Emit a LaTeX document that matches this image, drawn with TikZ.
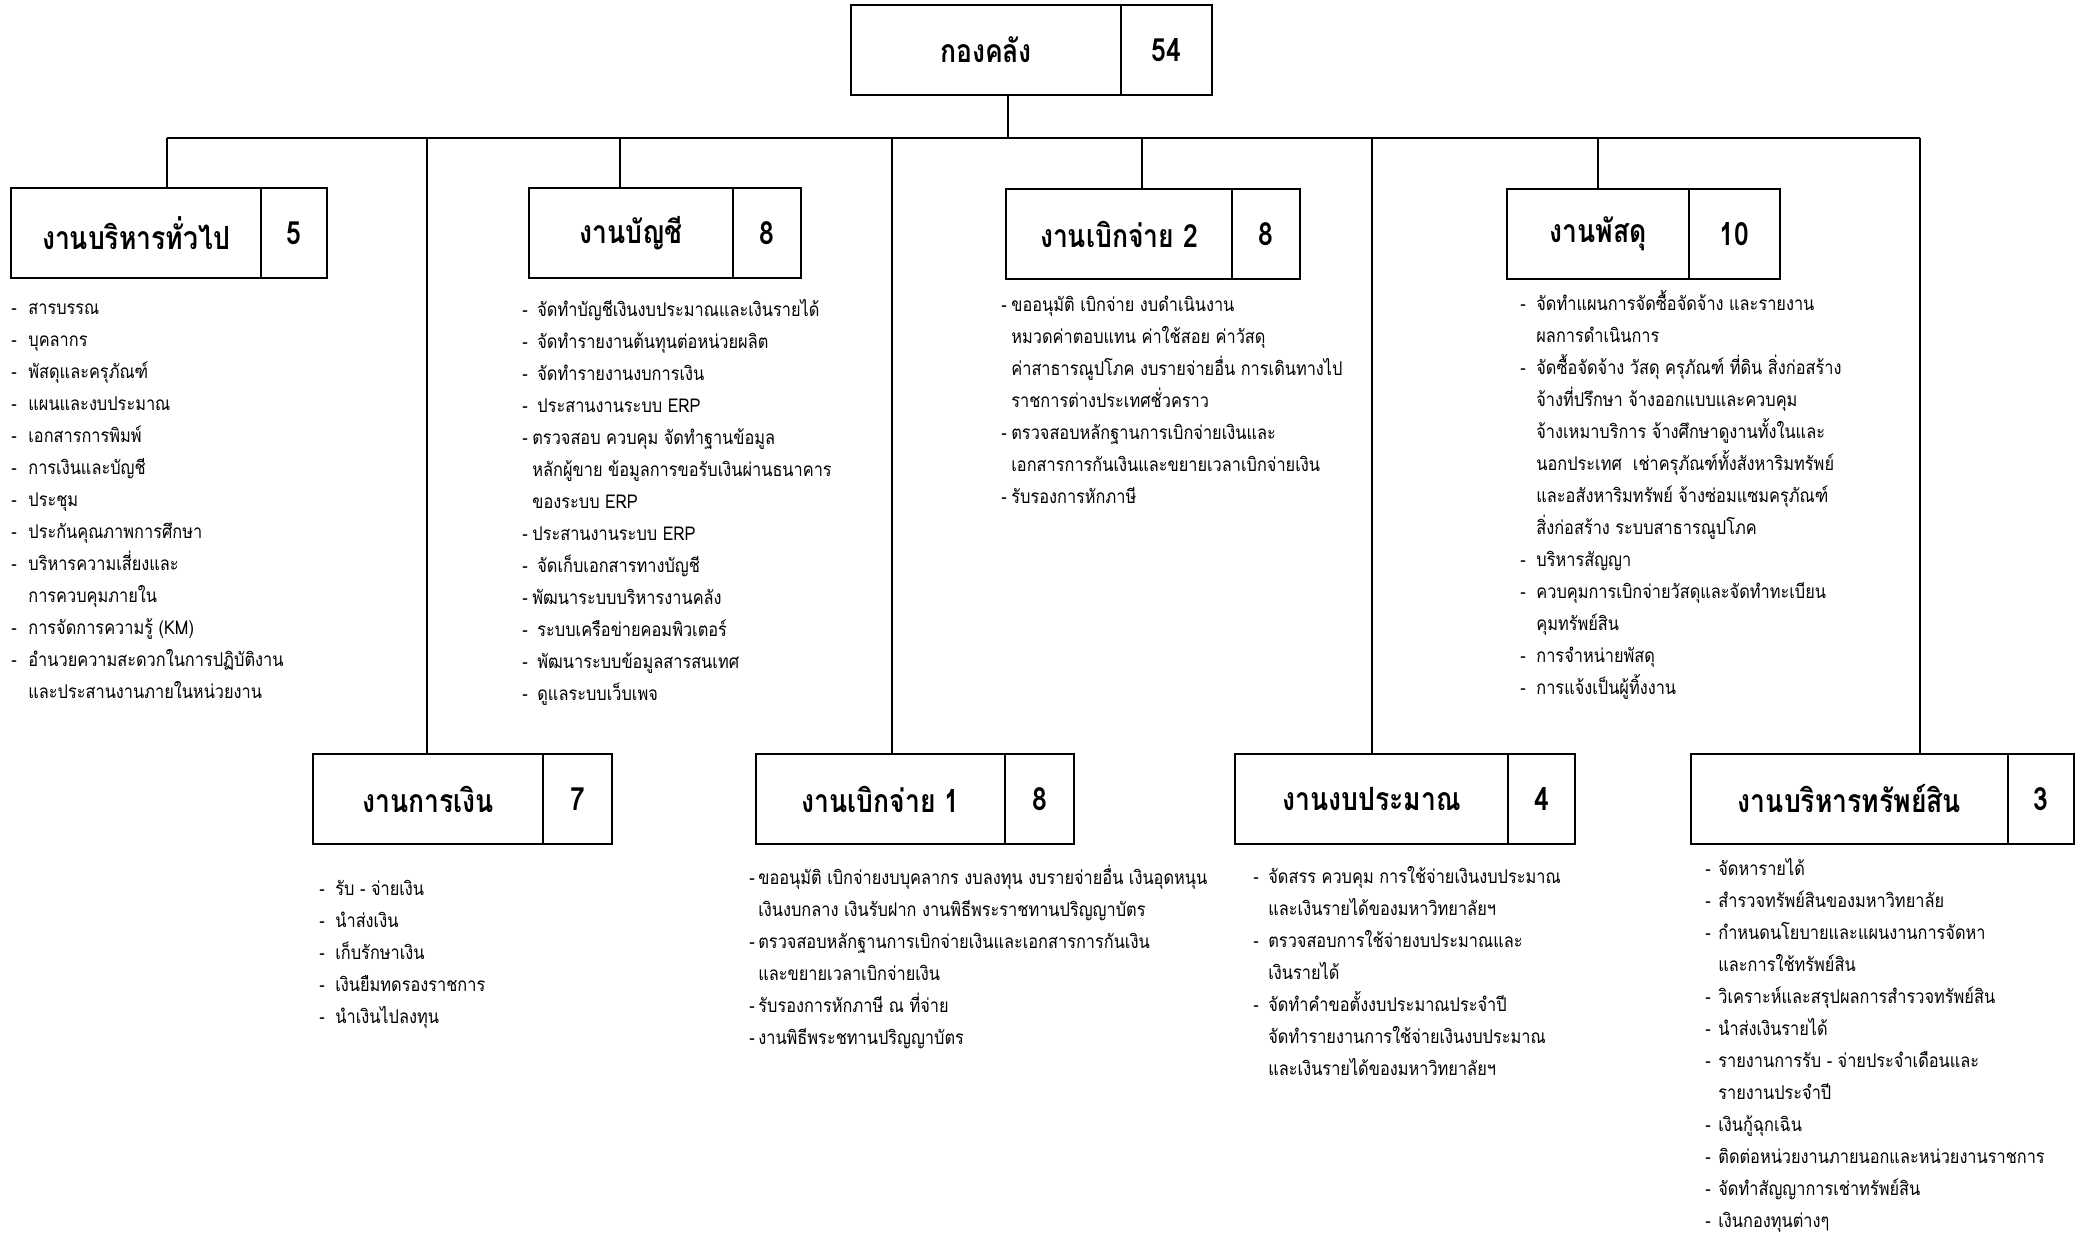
\documentclass[tikz,border=0pt]{standalone}
\usepackage{fontspec}
\newfontfamily\thaifont[Script=Thai, FakeStretch=0.83]{Loma}
\newfontfamily\dutyfont[Script=Thai, FakeStretch=0.86]{Loma}
\usetikzlibrary{positioning}

% indent of the dash in the duty lists
\newlength\dw
\newlength\dwn
\newcommand\li[1]{\strut\makebox[\dw][l]{-}#1}
\newcommand\lc[1]{\strut\hspace*{\dw}#1}
\newcommand\lj[1]{\strut\makebox[\dwn][l]{-}#1}
\newcommand\lk[1]{\strut\hspace*{\dwn}#1}

\begin{document}
\begin{tikzpicture}[x=0.5pt, y=-0.5pt]
        \tikzset{
          unit/.style={draw, line width=0.9pt, minimum height=45pt, inner sep=0pt, outer sep=0pt,
            anchor=north west, font=\thaifont\bfseries\fontsize{16}{18}\selectfont},
          count/.style={draw, line width=0.9pt, minimum height=45pt, inner sep=0pt, outer sep=0pt,
            font=\thaifont\bfseries\fontsize{16}{18}\selectfont},
          duty/.style={anchor=north west, align=left, inner sep=0pt,
            font=\dutyfont\fontsize{9.5}{16}\selectfont},
          link/.style={line width=0.6pt},
          bus/.style={line width=1.1pt}
        }
        \path[fill=white, use as bounding box] (0,0) rectangle (2085,1234);

        % head of the division
        \node[unit, minimum width=135pt] (fin) at (851,5) {กองคลัง};
        \node[count, minimum width=45.5pt, right=0pt of fin] (fin-n) {54};

        % upper row
        \node[unit, minimum width=125pt] (gen) at (11,188) {งานบริหารทั่วไป};
        \node[count, minimum width=33pt, right=0pt of gen] (gen-n) {5};
        \node[unit, minimum width=102pt] (acct) at (529,188) {งานบัญชี};
        \node[count, minimum width=34pt, right=0pt of acct] (acct-n) {8};
        \node[unit, minimum width=113pt] (pay2) at (1006,189) {งานเบิกจ่าย 2};
        \node[count, minimum width=34pt, right=0pt of pay2] (pay2-n) {8};
        \node[unit, minimum width=91pt] (supp) at (1507,189) {งานพัสดุ};
        \node[count, minimum width=45.5pt, right=0pt of supp] (supp-n) {10};

        % lower row
        \node[unit, minimum width=115pt] (cash) at (313,754) {งานการเงิน};
        \node[count, minimum width=34.5pt, right=0pt of cash] (cash-n) {7};
        \node[unit, minimum width=124.5pt] (pay1) at (756,754) {งานเบิกจ่าย 1};
        \node[count, minimum width=34.5pt, right=0pt of pay1] (pay1-n) {8};
        \node[unit, minimum width=136.5pt] (budg) at (1235,754) {งานงบประมาณ};
        \node[count, minimum width=33.5pt, right=0pt of budg] (budg-n) {4};
        \node[unit, minimum width=158.5pt] (asset) at (1691,754) {งานบริหารทรัพย์สิน};
        \node[count, minimum width=33pt, right=0pt of asset] (asset-n) {3};

        % connectors
        \coordinate (busW) at (167,138);
        \coordinate (busE) at (1920,138);
        \coordinate (top) at (1008,138);
        \draw[bus] (busW) -- (busE);
        \draw[link] (top |- fin.south) -- (top);
        \foreach \x/\n in {167/gen, 427/cash, 620/acct, 892/pay1, 1142/pay2, 1372/budg, 1598/supp, 1920/asset}{
          \coordinate (drop-\n) at (\x,138);
          \draw[link] (drop-\n) -- (drop-\n |- \n.north);
        }

        % duties
        \setlength{\dw}{8.5pt}
        \node[duty] (gen-d) at (11,292) {\li{สารบรรณ}\\ \li{บุคลากร}\\ \li{พัสดุและครุภัณฑ์}\\
          \li{แผนและงบประมาณ}\\ \li{เอกสารการพิมพ์}\\ \li{การเงินและบัญชี}\\ \li{ประชุม}\\
          \li{ประกันคุณภาพการศึกษา}\\ \li{บริหารความเสี่ยงและ}\\ \lc{การควบคุมภายใน}\\
          \li{การจัดการความรู้ (KM)}\\ \li{อำนวยความสะดวกในการปฏิบัติงาน}\\ \lc{และประสานงานภายในหน่วยงาน}};
        \setlength{\dw}{7.5pt}
        \setlength{\dwn}{5pt}
        \node[duty] (acct-d) at (522,294) {\li{จัดทำบัญชีเงินงบประมาณและเงินรายได้}\\ \li{จัดทำรายงานต้นทุนต่อหน่วยผลิต}\\
          \li{จัดทำรายงานงบการเงิน}\\ \li{ประสานงานระบบ ERP}\\ \lj{ตรวจสอบ ควบคุม จัดทำฐานข้อมูล}\\
          \lk{หลักผู้ขาย ข้อมูลการขอรับเงินผ่านธนาคาร}\\ \lk{ของระบบ ERP}\\ \lj{ประสานงานระบบ ERP}\\
          \li{จัดเก็บเอกสารทางบัญชี}\\ \lj{พัฒนาระบบบริหารงานคลัง}\\ \li{ระบบเครือข่ายคอมพิวเตอร์}\\
          \li{พัฒนาระบบข้อมูลสารสนเทศ}\\ \li{ดูแลระบบเว็บเพจ}};
        \setlength{\dw}{5pt}
        \node[duty] (pay2-d) at (1001,289) {\li{ขออนุมัติ เบิกจ่าย งบดำเนินงาน}\\ \lc{หมวดค่าตอบแทน ค่าใช้สอย ค่าวัสดุ}\\
          \lc{ค่าสาธารณูปโภค งบรายจ่ายอื่น การเดินทางไป}\\ \lc{ราชการต่างประเทศชั่วคราว}\\
          \li{ตรวจสอบหลักฐานการเบิกจ่ายเงินและ}\\ \lc{เอกสารการกันเงินและขยายเวลาเบิกจ่ายเงิน}\\ \li{รับรองการหักภาษี}};
        \setlength{\dw}{8pt}
        \node[duty] (supp-d) at (1520,288) {\li{จัดทำแผนการจัดซื้อจัดจ้าง และรายงาน}\\ \lc{ผลการดำเนินการ}\\
          \li{จัดซื้อจัดจ้าง วัสดุ ครุภัณฑ์ ที่ดิน สิ่งก่อสร้าง}\\ \lc{จ้างที่ปรึกษา จ้างออกแบบและควบคุม}\\
          \lc{จ้างเหมาบริการ จ้างศึกษาดูงานทั้งในและ}\\ \lc{นอกประเทศ~ เช่าครุภัณฑ์ทั้งสังหาริมทรัพย์}\\
          \lc{และอสังหาริมทรัพย์ จ้างซ่อมแซมครุภัณฑ์}\\ \lc{สิ่งก่อสร้าง ระบบสาธารณูปโภค}\\ \li{บริหารสัญญา}\\
          \li{ควบคุมการเบิกจ่ายวัสดุและจัดทำทะเบียน}\\ \lc{คุมทรัพย์สิน}\\ \li{การจำหน่ายพัสดุ}\\ \li{การแจ้งเป็นผู้ทิ้งงาน}};
        \setlength{\dw}{8pt}
        \node[duty] (cash-d) at (319,873) {\li{รับ - จ่ายเงิน}\\ \li{นำส่งเงิน}\\ \li{เก็บรักษาเงิน}\\
          \li{เงินยืมทดรองราชการ}\\ \li{นำเงินไปลงทุน}};
        \setlength{\dw}{4.5pt}
        \node[duty] (pay1-d) at (749,862) {\li{ขออนุมัติ เบิกจ่ายงบบุคลากร งบลงทุน งบรายจ่ายอื่น เงินอุดหนุน}\\
          \lc{เงินงบกลาง เงินรับฝาก งานพิธีพระราชทานปริญญาบัตร}\\ \li{ตรวจสอบหลักฐานการเบิกจ่ายเงินและเอกสารการกันเงิน}\\
          \lc{และขยายเวลาเบิกจ่ายเงิน}\\ \li{รับรองการหักภาษี ณ ที่จ่าย}\\ \li{งานพิธีพระชทานปริญญาบัตร}};
        \setlength{\dw}{7.5pt}
        \node[duty] (budg-d) at (1253,861) {\li{จัดสรร ควบคุม การใช้จ่ายเงินงบประมาณ}\\ \lc{และเงินรายได้ของมหาวิทยาลัยฯ}\\
          \li{ตรวจสอบการใช้จ่ายงบประมาณและ}\\ \lc{เงินรายได้}\\ \li{จัดทำคำขอตั้งงบประมาณประจำปี}\\
          \lc{จัดทำรายงานการใช้จ่ายเงินงบประมาณ}\\ \lc{และเงินรายได้ของมหาวิทยาลัยฯ}};
        \setlength{\dw}{6.5pt}
        \node[duty] (asset-d) at (1705,853) {\li{จัดหารายได้}\\ \li{สำรวจทรัพย์สินของมหาวิทยาลัย}\\
          \li{กำหนดนโยบายและแผนงานการจัดหา}\\ \lc{และการใช้ทรัพย์สิน}\\ \li{วิเคราะห์และสรุปผลการสำรวจทรัพย์สิน}\\
          \li{นำส่งเงินรายได้}\\ \li{รายงานการรับ - จ่ายประจำเดือนและ}\\ \lc{รายงานประจำปี}\\ \li{เงินกู้ฉุกเฉิน}\\
          \li{ติดต่อหน่วยงานภายนอกและหน่วยงานราชการ}\\ \li{จัดทำสัญญาการเช่าทรัพย์สิน}\\ \li{เงินกองทุนต่างๆ}};
    \end{tikzpicture}
\end{document}
